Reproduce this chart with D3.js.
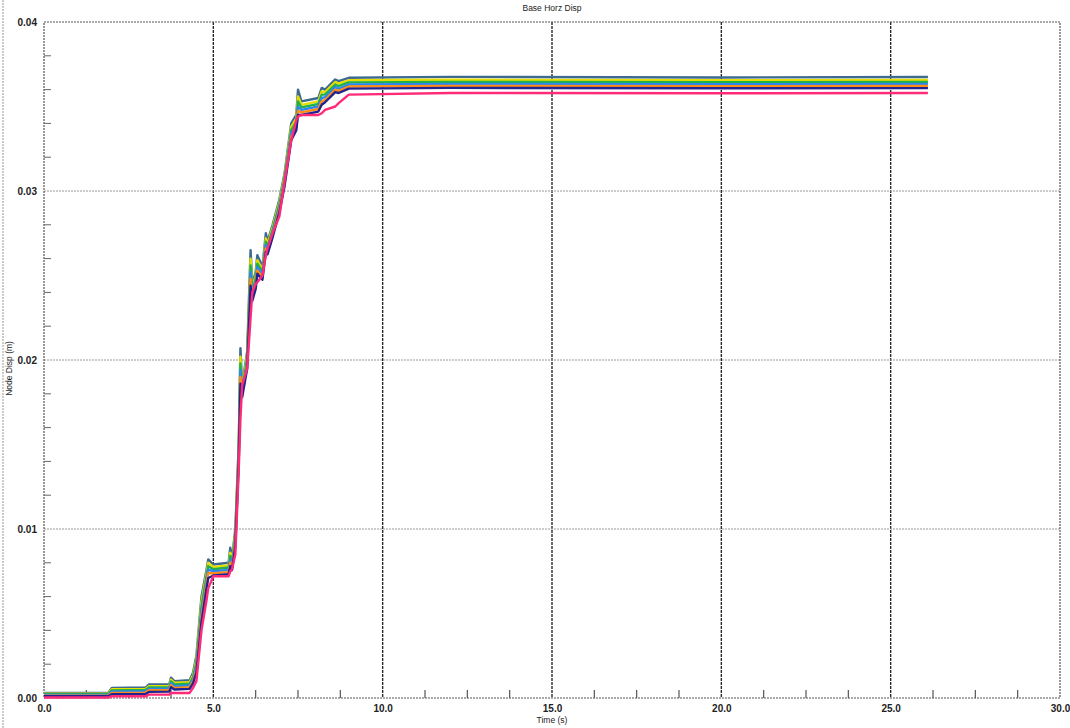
<!DOCTYPE html>
<html>
<head>
<meta charset="utf-8">
<script src="https://cdn.jsdelivr.net/npm/d3@7"></script>
<style>
  body { margin: 0; background: #fff; }
  text { font-family: "Liberation Sans", Arial, sans-serif; fill: #222; }
</style>
</head>
<body>
<div id="chart"></div>
<script>
// time points shared by all node series (s)
var times = [0, 1.9, 2.0, 3.0, 3.1, 3.7, 3.75, 3.85, 4.3, 4.4, 4.5, 4.65, 4.8, 4.85, 5.0, 5.45, 5.5, 5.55, 5.65, 5.75,
  5.8, 5.85, 6.0, 6.1, 6.15, 6.25, 6.3, 6.45, 6.55, 6.6, 6.75, 6.95, 7.1, 7.3, 7.45, 7.5, 7.6, 8.1, 8.2, 8.3,
  8.6, 8.7, 9.0, 12.0, 20.0, 26.1];

// node displacement (m)
var slateDisp = [0.00030,0.00030,0.00060,0.00062,0.00080, 0.00082,0.00120,0.00100,0.00105,0.00150, 0.00250,0.00600,0.00760,0.00820,0.00790, 0.00800,0.00890,0.00820,0.01000,0.01500, 0.02070,0.01850,0.02050,0.02650,0.02450, 0.02520,0.02620,0.02550,0.02750,0.02700, 0.02800,0.02950,0.03100,0.03400,0.03450, 0.03600,0.03530,0.03550,0.03610,0.03600, 0.03660,0.03650,0.03670,0.03675,0.03672,0.03675];
var yellowDisp = [0.00026,0.00026,0.00052,0.00054,0.00070, 0.00072,0.00108,0.00090,0.00094,0.00135, 0.00230,0.00570,0.00740,0.00800,0.00775, 0.00785,0.00860,0.00805,0.00980,0.01480, 0.02020,0.01830,0.02030,0.02600,0.02430, 0.02500,0.02590,0.02535,0.02720,0.02685, 0.02785,0.02935,0.03085,0.03380,0.03430, 0.03560,0.03510,0.03530,0.03590,0.03585, 0.03645,0.03635,0.03655,0.03658,0.03656,0.03657];
var greenDisp = [0.00022,0.00022,0.00045,0.00047,0.00062, 0.00064,0.00098,0.00080,0.00084,0.00122, 0.00210,0.00540,0.00720,0.00780,0.00762, 0.00772,0.00840,0.00792,0.00960,0.01460, 0.01980,0.01815,0.02010,0.02560,0.02410, 0.02480,0.02570,0.02520,0.02700,0.02670, 0.02770,0.02920,0.03070,0.03360,0.03410, 0.03530,0.03495,0.03515,0.03570,0.03570, 0.03630,0.03620,0.03643,0.03646,0.03644,0.03645];
var blueDisp = [0.00018,0.00018,0.00038,0.00040,0.00054, 0.00056,0.00088,0.00070,0.00074,0.00110, 0.00190,0.00510,0.00700,0.00760,0.00750, 0.00758,0.00820,0.00780,0.00940,0.01440, 0.01940,0.01800,0.01990,0.02520,0.02390, 0.02460,0.02550,0.02505,0.02680,0.02655, 0.02755,0.02905,0.03055,0.03340,0.03390, 0.03500,0.03480,0.03500,0.03550,0.03555, 0.03615,0.03605,0.03630,0.03634,0.03632,0.03633];
var orangeDisp = [0.00014,0.00014,0.00030,0.00032,0.00046, 0.00048,0.00076,0.00060,0.00064,0.00098, 0.00170,0.00480,0.00680,0.00740,0.00738, 0.00745,0.00800,0.00768,0.00920,0.01420, 0.01900,0.01790,0.01970,0.02480,0.02370, 0.02440,0.02530,0.02490,0.02660,0.02640, 0.02740,0.02890,0.03040,0.03320,0.03375, 0.03475,0.03465,0.03485,0.03530,0.03540, 0.03600,0.03592,0.03618,0.03622,0.03620,0.03621];
var navyDisp = [0.00010,0.00010,0.00022,0.00024,0.00036, 0.00038,0.00064,0.00050,0.00054,0.00086, 0.00150,0.00450,0.00650,0.00710,0.00725, 0.00732,0.00780,0.00756,0.00900,0.01400, 0.01860,0.01780,0.01950,0.02440,0.02350, 0.02420,0.02510,0.02475,0.02640,0.02625, 0.02725,0.02875,0.03025,0.03300,0.03360, 0.03450,0.03450,0.03470,0.03510,0.03525, 0.03585,0.03580,0.03606,0.03610,0.03608,0.03609];
var pinkDisp = [0.00003,0.00003,0.00010,0.00010,0.00020, 0.00020,0.00030,0.00030,0.00030,0.00060, 0.00100,0.00400,0.00580,0.00650,0.00720, 0.00720,0.00750,0.00760,0.00850,0.01350, 0.01650,0.01850,0.01950,0.02250,0.02400, 0.02450,0.02460,0.02500,0.02620,0.02660, 0.02750,0.02850,0.03050,0.03300,0.03420, 0.03440,0.03450,0.03450,0.03460,0.03480, 0.03500,0.03520,0.03570,0.03580,0.03578,0.03580];

var seriesList = [slateDisp, yellowDisp, greenDisp, blueDisp, orangeDisp, navyDisp, pinkDisp];
var seriesColors = ["#3d6a8e", "#e4df00", "#22b04a", "#2a86f0", "#ff8a14", "#22238f", "#ff2a78"];

var xTicks = [0, 5, 10, 15, 20, 25, 30];
var yTicks = [0, 0.01, 0.02, 0.03, 0.04];
var xMinor = [1.25, 2.5, 3.75, 6.25, 7.5, 8.75, 11.25, 12.5, 13.75, 16.25, 17.5, 18.75, 21.25, 22.5, 23.75, 26.25, 27.5, 28.75];
var yMinor = [0.002, 0.004, 0.006, 0.008, 0.012, 0.014, 0.016, 0.018, 0.022, 0.024, 0.026, 0.028, 0.032, 0.034, 0.036, 0.038];

var margin = {top: 22, right: 10, bottom: 30, left: 44},
    width = 1070 - margin.left - margin.right,
    height = 728 - margin.top - margin.bottom;

var root = d3.select("#chart")
  .append("svg")
  .attr("width", 1070)
  .attr("height", 728);

// page edge of the scan
root.append("line")
  .attr("x1", 3).attr("x2", 3).attr("y1", 0).attr("y2", 728)
  .attr("stroke", "#999").attr("stroke-width", 1).attr("stroke-dasharray", "2,1");

var svg = root.append("g")
  .attr("transform", "translate(" + margin.left + "," + margin.top + ")");

var x = d3.scaleLinear().domain([0, 30]).range([0, width]);
var y = d3.scaleLinear().domain([0, 0.04]).range([height, 0]);

// grid
svg.append("g")
  .selectAll("line")
  .data(xTicks.slice(1, -1))
  .enter()
  .append("line")
    .attr("x1", function(d) { return x(d) })
    .attr("x2", function(d) { return x(d) })
    .attr("y1", 0).attr("y2", height)
    .attr("stroke", "#2a2a2a").attr("stroke-width", 1.4).attr("stroke-dasharray", "3,1");

svg.append("g")
  .selectAll("line")
  .data(yTicks.slice(1, -1))
  .enter()
  .append("line")
    .attr("x1", 0).attr("x2", width)
    .attr("y1", function(d) { return y(d) })
    .attr("y2", function(d) { return y(d) })
    .attr("stroke", "#9a9a9a").attr("stroke-width", 1).attr("stroke-dasharray", "2,1");

// frame
svg.append("rect")
  .attr("width", width).attr("height", height)
  .attr("fill", "none").attr("stroke", "#555").attr("stroke-width", 1.2).attr("stroke-dasharray", "2,1");

// axes
var xAxis = svg.append("g")
  .attr("transform", "translate(0," + height + ")")
  .call(d3.axisBottom(x).tickValues(xTicks).tickSize(0).tickPadding(7).tickFormat(d3.format(".1f")));
var yAxis = svg.append("g")
  .call(d3.axisLeft(y).tickValues(yTicks).tickSize(0).tickPadding(7).tickFormat(d3.format(".2f")));
[xAxis, yAxis].forEach(function(a) {
  a.select(".domain").remove();
  a.selectAll("text").attr("font-size", 10).attr("font-weight", "bold").attr("fill", "#333")
    .attr("font-family", "Liberation Sans, Arial, sans-serif");
});

// minor ticks
svg.append("g")
  .selectAll("line")
  .data(xMinor)
  .enter()
  .append("line")
    .attr("x1", function(d) { return x(d) })
    .attr("x2", function(d) { return x(d) })
    .attr("y1", height).attr("y2", height - 8)
    .attr("stroke", "#555").attr("stroke-width", 1.2);

svg.append("g")
  .selectAll("line")
  .data(yMinor)
  .enter()
  .append("line")
    .attr("x1", 0).attr("x2", 7)
    .attr("y1", function(d) { return y(d) })
    .attr("y2", function(d) { return y(d) })
    .attr("stroke", "#666").attr("stroke-width", 1);

// the lines
var line = d3.line()
  .x(function(d, i) { return x(times[i]) })
  .y(function(d) { return y(d) });

seriesList.forEach(function(vals, k) {
  svg.append("path")
    .datum(vals)
    .attr("fill", "none")
    .attr("stroke", seriesColors[k])
    .attr("stroke-width", 2.4)
    .attr("stroke-linejoin", "round")
    .attr("d", line);
});

// titles
svg.append("text")
  .attr("x", x(15)).attr("y", -11)
  .attr("text-anchor", "middle")
  .attr("font-size", 8.5)
  .text("Base Horz Disp");

svg.append("text")
  .attr("x", x(15)).attr("y", height + 25)
  .attr("text-anchor", "middle")
  .attr("font-size", 8.5)
  .text("Time (s)");

svg.append("text")
  .attr("transform", "translate(" + (12 - margin.left) + "," + y(0.0195) + ") rotate(-90)")
  .attr("text-anchor", "middle")
  .attr("font-size", 8.5)
  .text("Node Disp (m)");
</script>
</body>
</html>
